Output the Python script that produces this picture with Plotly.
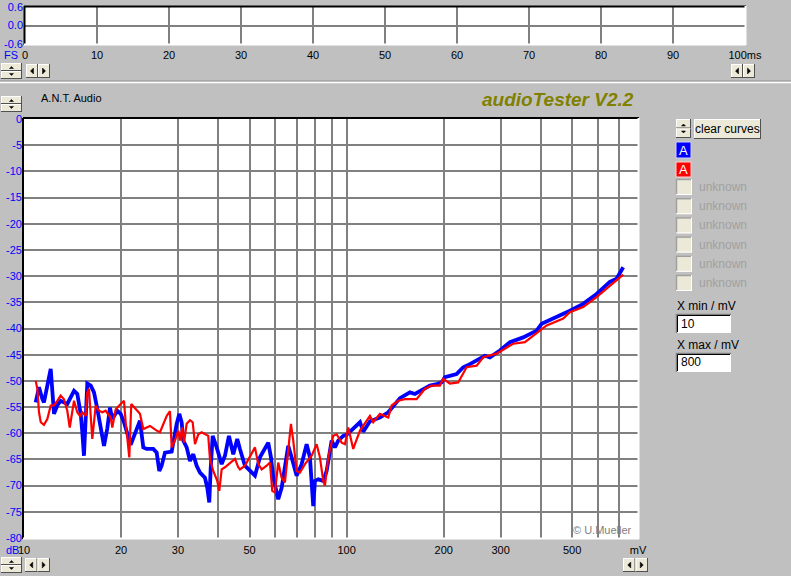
import plotly.graph_objects as go
import math

W, H = 791, 576

# ---------------- data ----------------
blue_mv = [10.87, 11.13, 11.39, 11.53, 12.10, 12.39, 12.68, 12.99, 13.62, 14.29, 14.63, 14.99,
           15.16, 15.34, 15.53, 15.71, 16.10, 16.48, 16.87, 17.29, 17.70, 18.12, 18.47, 18.78,
           19.46, 19.94, 20.41, 21.41, 22.35, 22.88, 23.43, 24.00, 25.16, 25.78, 26.26, 26.71,
           27.35, 28.69, 29.73, 30.29, 30.81, 31.16, 31.93, 32.69, 33.47, 34.29, 35.11, 36.38,
           36.99, 37.52, 37.89, 38.44, 39.55, 40.99, 41.96, 43.18, 44.52, 45.81, 46.70, 48.40,
           51.98, 53.87, 57.15, 58.27, 59.23, 61.38, 62.89, 64.39, 65.92, 67.54, 69.99, 72.54,
           75.17, 76.96, 78.79, 79.76, 81.66, 84.62, 86.70, 89.85, 91.99, 94.18, 97.60, 100.0,
           104.8, 110.0, 112.6, 118.1, 126.8, 134.6, 146.3, 157.1, 162.8, 181.2, 190.1, 197.0,
           201.7, 219.2, 229.8, 241.0, 268.3, 278.0, 298.6, 320.7, 352.6, 388.0, 402.1, 436.8,
           492.1, 541.1, 595.3, 654.6, 686.7, 719.8]
blue_db = [-54.1, -51.2, -53.4, -54.1, -47.7, -56.3, -54.7, -53.8, -54.4, -51.9, -52.5, -56.3,
           -59.8, -64.3, -57.2, -50.5, -50.9, -52.2, -55.3, -58.9, -62.4, -59.1, -55.1, -57.3,
           -55.7, -56.3, -57.9, -62.2, -59.5, -57.6, -62.7, -63.0, -63.0, -63.7, -67.2, -66.2,
           -63.7, -63.5, -58.2, -56.3, -57.9, -61.4, -62.7, -65.3, -64.0, -66.2, -67.5, -68.5,
           -70.4, -73.2, -66.9, -60.5, -62.7, -65.9, -64.3, -60.5, -64.0, -61.1, -63.0, -66.2,
           -68.1, -64.6, -61.8, -64.6, -68.5, -72.6, -70.4, -65.9, -62.4, -64.6, -68.1, -65.9,
           -62.1, -64.6, -73.9, -69.1, -68.8, -69.1, -67.2, -61.4, -62.7, -61.4, -60.5, -60.3,
           -59.2, -57.9, -59.7, -57.7, -57.0, -56.0, -53.3, -52.2, -52.5, -50.9, -50.6, -50.3,
           -49.3, -48.7, -47.4, -46.8, -45.2, -45.5, -44.2, -42.6, -41.7, -40.4, -39.1, -38.1,
           -36.6, -35.3, -33.4, -31.1, -30.5, -28.3]

red_mv = [10.87, 11.00, 11.13, 11.27, 11.53, 11.81, 12.10, 12.39, 12.68, 12.99, 13.30, 13.62,
          13.86, 14.12, 14.29, 14.63, 14.91, 15.16, 15.53, 15.71, 15.90, 16.10, 16.28, 16.48,
          16.68, 17.08, 17.48, 17.91, 18.56, 18.78, 19.24, 19.94, 20.41, 20.66, 21.00, 21.20,
          21.50, 22.88, 23.43, 24.57, 25.78, 26.39, 27.68, 28.34, 28.69, 29.37, 30.07, 30.44,
          30.94, 31.32, 31.93, 32.69, 33.33, 33.88, 34.69, 35.54, 37.25, 37.70, 38.60, 39.72,
          40.29, 40.99, 41.96, 43.49, 45.07, 46.14, 46.70, 48.40, 50.77, 51.98, 53.22, 54.53,
          56.51, 57.85, 58.81, 59.95, 61.38, 62.89, 64.39, 65.92, 67.20, 68.32, 69.99, 71.66,
          74.26, 77.90, 80.73, 82.65, 84.62, 85.66, 87.70, 90.88, 93.12, 96.50, 98.80, 101.2,
          104.8, 110.0, 118.1, 120.9, 126.8, 134.6, 137.9, 144.5, 151.6, 164.8, 174.9, 183.4,
          194.6, 199.2, 209.0, 221.7, 229.8, 235.4, 252.9, 265.1, 291.7, 328.3, 356.9, 392.5,
          416.7, 469.1, 492.1, 541.1, 595.3, 639.4, 678.3, 719.8]
red_db = [-50.0, -51.5, -56.0, -57.9, -58.4, -57.3, -54.7, -54.7, -53.8, -52.8, -53.5, -55.7,
          -58.9, -55.4, -53.8, -56.0, -56.7, -56.0, -56.7, -52.2, -51.5, -56.7, -61.1, -57.9,
          -54.7, -55.7, -56.0, -55.7, -57.0, -58.9, -55.4, -54.4, -53.8, -57.9, -63.0, -64.6,
          -54.4, -56.3, -59.2, -58.6, -59.5, -59.8, -56.7, -55.8, -62.7, -61.4, -59.5, -61.4,
          -58.9, -61.8, -58.2, -57.5, -57.9, -62.1, -60.2, -59.8, -60.5, -64.9, -67.2, -69.1,
          -71.0, -66.9, -66.5, -65.6, -64.9, -66.5, -66.9, -66.2, -64.0, -62.7, -65.9, -66.9,
          -66.2, -65.6, -71.0, -71.3, -65.6, -68.5, -69.4, -63.0, -58.2, -61.4, -67.2, -67.5,
          -65.9, -64.3, -62.1, -64.6, -69.1, -70.0, -64.6, -60.5, -60.2, -61.8, -62.1, -58.9,
          -63.0, -59.5, -56.7, -57.9, -56.3, -57.0, -54.7, -53.8, -53.5, -53.5, -51.5, -50.9,
          -50.9, -49.6, -50.5, -50.3, -48.4, -47.4, -47.1, -45.5, -44.8, -42.9, -42.6, -40.7,
          -39.4, -38.1, -36.9, -35.9, -34.0, -32.4, -31.1, -29.7]

x_tick_vals = [10, 20, 30, 40, 50, 60, 70, 80, 90, 100, 200, 300, 400, 500, 600, 700, 800]
x_tick_text = ["", "20", "30", "", "50", "", "", "", "", "100", "200", "300", "", "500", "", "", "mV"]
y_tick_vals = list(range(-80, 1, 5))
y_tick_text = [str(v) for v in y_tick_vals]

top_x_vals = list(range(0, 101, 10))
top_x_text = ["0", "10", "20", "30", "40", "50", "60", "70", "80", "90", "100ms"]
top_y_vals = [-0.6, 0.0, 0.6]
top_y_text = ["-0.6", "0.0", "0.6"]

legend_names = ["A", "A"]
unknown_names = ["unknown"] * 6

# ---------------- helpers ----------------
def fx(px):
    return px / W

def fy(py):
    return 1 - py / H

FONT = "Liberation Sans"
shapes = []
annots = []

def line(x0, y0, x1, y1, color, width=1):
    shapes.append(dict(type="line", xref="paper", yref="paper", x0=fx(x0), y0=fy(y0),
                       x1=fx(x1), y1=fy(y1), line=dict(color=color, width=width), layer="above"))

def rect(x0, y0, x1, y1, fill, lc=None, lw=0):
    shapes.append(dict(type="rect", xref="paper", yref="paper", x0=fx(x0), y0=fy(y1),
                       x1=fx(x1), y1=fy(y0), fillcolor=fill,
                       line=dict(color=lc or fill, width=lw), layer="above"))

def tri(pts, color="#000000"):
    p = "M " + " L ".join(f"{fx(a):.5f} {fy(b):.5f}" for a, b in pts) + " Z"
    shapes.append(dict(type="path", xref="paper", yref="paper", path=p, fillcolor=color,
                       line=dict(color=color, width=0.5), layer="above"))

def button(x0, y0, x1, y1, fill="#ece9d8"):
    rect(x0, y0, x1, y1, fill)
    line(x0, y0 + 0.5, x1, y0 + 0.5, "#ffffff")
    line(x0 + 0.5, y0, x0 + 0.5, y1, "#ffffff")
    line(x0, y1 - 0.5, x1, y1 - 0.5, "#505050")
    line(x1 - 0.5, y0, x1 - 0.5, y1, "#505050")

def spin(x0, y0, x1, y1):
    ym = (y0 + y1) / 2
    button(x0, y0, x1, ym)
    button(x0, ym, x1, y1)
    cx = (x0 + x1) / 2
    tri([(cx - 2, ym - 2.5), (cx + 2, ym - 2.5), (cx, ym - 4.5)])
    tri([(cx - 2, ym + 2.5), (cx + 2, ym + 2.5), (cx, ym + 4.5)])

def arrows(x0, y0, x1, y1):
    xm = (x0 + x1) / 2
    button(x0, y0, xm, y1)
    button(xm, y0, x1, y1)
    cy = (y0 + y1) / 2
    c1 = (x0 + xm) / 2
    c2 = (xm + x1) / 2
    tri([(c1 + 1.5, cy - 3), (c1 + 1.5, cy + 3), (c1 - 1.5, cy)])
    tri([(c2 - 1.5, cy - 3), (c2 - 1.5, cy + 3), (c2 + 1.5, cy)])

def text(x, y, s, color="#000000", size=12, xanchor="left"):
    annots.append(dict(x=fx(x), y=fy(y), xref="paper", yref="paper", text=s, showarrow=False,
                       xanchor=xanchor, yanchor="middle",
                       font=dict(family=FONT, size=size, color=color)))

# ---------------- figure ----------------
fig = go.Figure()
fig.add_trace(go.Scatter(x=blue_mv, y=blue_db, mode="lines", line=dict(color="#0000ff", width=3.8),
                         xaxis="x", yaxis="y", showlegend=False, hoverinfo="skip"))
fig.add_trace(go.Scatter(x=red_mv, y=red_db, mode="lines", line=dict(color="#ff0000", width=2.2),
                         xaxis="x", yaxis="y", showlegend=False, hoverinfo="skip"))
fig.add_trace(go.Scatter(x=[None], y=[None], xaxis="x2", yaxis="y2", showlegend=False))

grid = dict(showgrid=True, gridcolor="#808080", gridwidth=1.5, zeroline=False, showline=False,
            ticks="", fixedrange=True, automargin=False)

fig.update_layout(
    width=W, height=H, margin=dict(l=0, r=0, t=0, b=0, autoexpand=False),
    paper_bgcolor="#c0c0c0", plot_bgcolor="#ffffff",
    font=dict(family=FONT, size=11, color="#000000"),
    xaxis=dict(type="log", range=[1, math.log10(800)], domain=[fx(24), fx(638)],
               tickvals=x_tick_vals, ticktext=x_tick_text, anchor="y",
               tickfont=dict(color="#000000", size=11), ticklabelstandoff=4, **grid),
    yaxis=dict(range=[-80, 0], domain=[fy(538), fy(119)], tickvals=y_tick_vals,
               ticktext=y_tick_text, anchor="x", tickfont=dict(color="#0000ff", size=11),
               ticklabelstandoff=1, **grid),
    xaxis2=dict(range=[0, 100], domain=[fx(25), fx(745)], tickvals=top_x_vals,
                ticktext=top_x_text, anchor="y2", tickfont=dict(color="#000000", size=11),
                ticklabelstandoff=3, **grid),
    yaxis2=dict(range=[-0.6, 0.6], domain=[fy(44), fy(7)], tickvals=top_y_vals,
                ticktext=top_y_text, anchor="x2", tickfont=dict(color="#0000ff", size=11),
                ticklabelstandoff=1, **grid),
)

# plot frames (sunken look)
line(23, 118, 639, 118, "#000000", 2)
line(23, 118, 23, 539, "#000000", 2)
line(638.5, 118, 638.5, 539, "#ffffff", 2)
line(23, 538.5, 639, 538.5, "#ffffff", 2)

line(24, 6.5, 746, 6.5, "#000000", 2)
line(24.5, 6, 24.5, 45, "#000000", 2)
line(745.5, 6, 745.5, 45, "#ffffff", 2)
line(24, 44.5, 746, 44.5, "#ffffff", 2)

# separator
line(0, 81, W, 81, "#909090", 1)
line(0, 82.5, W, 82.5, "#ffffff", 1.5)

# buttons
spin(1, 63, 22, 79)
arrows(26, 64, 50, 78)
arrows(731, 64, 755, 78)
spin(1, 96, 22, 112)
spin(1, 557, 22, 573)
arrows(25, 558, 50, 572)
arrows(623, 558, 648, 572)

# right panel
spin(676, 119, 691, 138)
button(694, 119, 761, 139)
text(727.5, 129, "clear curves", size=12, xanchor="center")

rect(676, 142, 691, 158, "#0000ff", "#d0d0ff", 1)
text(683.5, 150, legend_names[0], color="#ffffff", size=13, xanchor="center")
rect(676, 162, 691, 177, "#ff0000", "#ffd0d0", 1)
text(683.5, 170, legend_names[1], color="#ffffff", size=13, xanchor="center")

for i, name in enumerate(unknown_names):
    y0 = 179 + i * 19.2
    rect(676, y0, 692, y0 + 16, "#ece9d8")
    line(676, y0 + 0.5, 692, y0 + 0.5, "#a0a0a0", 1.5)
    line(676.5, y0, 676.5, y0 + 16, "#a0a0a0", 1.5)
    line(676, y0 + 15.5, 692, y0 + 15.5, "#ffffff", 1)
    line(691.5, y0, 691.5, y0 + 16, "#ffffff", 1)
    text(697, y0 + 8, name, color="#a0a0a0", size=12)

text(675, 306, "X min / mV", size=12)
rect(676, 314, 731, 333, "#ffffff")
line(676, 314.5, 731, 314.5, "#808080", 1.5)
line(676.5, 314, 676.5, 333, "#808080", 1.5)
line(677.5, 315.5, 730, 315.5, "#000000", 1)
line(677.5, 315.5, 677.5, 332, "#000000", 1)
text(679, 324, "10", size=12)

text(675, 345, "X max / mV", size=12)
rect(676, 353, 731, 372, "#ffffff")
line(676, 353.5, 731, 353.5, "#808080", 1.5)
line(676.5, 353, 676.5, 372, "#808080", 1.5)
line(677.5, 354.5, 730, 354.5, "#000000", 1)
line(677.5, 354.5, 677.5, 371, "#000000", 1)
text(679, 362, "800", size=12)

# labels
text(39, 98, "A.N.T. Audio", size=11)
text(480, 99, "<b><i>audioTester V2.2</i></b>", color="#808000", size=19)
text(634, 530, "© U.Mueller", color="#808080", size=11, xanchor="right")
text(4, 550, "dB", color="#0000ff", size=11)
text(16, 550, "10", size=11)
text(2, 55, "FS", color="#0000ff", size=11)

fig.update_layout(shapes=shapes, annotations=annots)
fig.write_html("out.html", config={"displayModeBar": False},
               post_script="document.body.style.margin='0';document.body.style.background='#c0c0c0';")
